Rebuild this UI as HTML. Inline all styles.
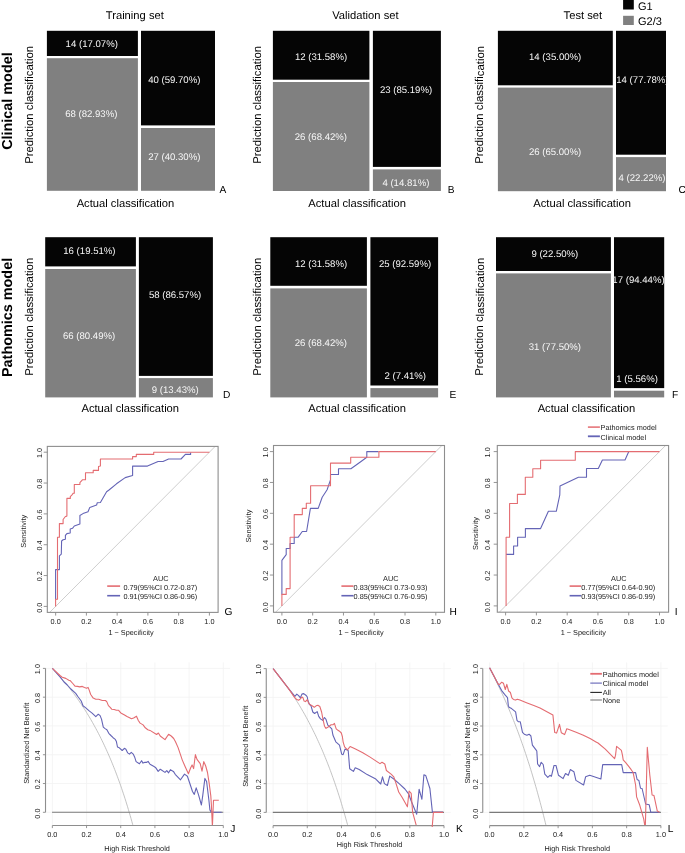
<!DOCTYPE html>
<html><head><meta charset="utf-8"><style>
html,body{margin:0;padding:0;background:#fff;}
body{width:685px;height:853px;overflow:hidden;}
svg{display:block;font-family:"Liberation Sans", sans-serif;will-change:transform;}
text{text-rendering:geometricPrecision;}
</style></head><body>
<svg width="685" height="853" viewBox="0 0 685 853">
<defs><clipPath id="c1"><rect x="47.30" y="446.40" width="170.80" height="166.00"/></clipPath><clipPath id="c2"><rect x="273.50" y="445.50" width="171.00" height="166.80"/></clipPath><clipPath id="c3"><rect x="497.30" y="445.50" width="171.30" height="166.70"/></clipPath><clipPath id="c4"><rect x="45.51" y="662.40" width="184.63" height="163.10"/></clipPath><clipPath id="c5"><rect x="266.26" y="662.60" width="184.57" height="162.98"/></clipPath><clipPath id="c6"><rect x="482.75" y="662.40" width="185.00" height="163.21"/></clipPath></defs>
<rect x="46.90" y="30.80" width="91.00" height="25.20" fill="#050505"/>
<rect x="46.90" y="58.20" width="91.00" height="132.60" fill="#808080"/>
<rect x="141.00" y="30.80" width="74.00" height="94.60" fill="#050505"/>
<rect x="141.00" y="128.00" width="74.00" height="62.80" fill="#808080"/>
<rect x="272.90" y="30.80" width="96.50" height="48.90" fill="#050505"/>
<rect x="272.90" y="82.00" width="96.50" height="109.00" fill="#808080"/>
<rect x="372.90" y="30.80" width="68.00" height="136.10" fill="#050505"/>
<rect x="372.90" y="169.40" width="68.00" height="21.60" fill="#808080"/>
<rect x="497.90" y="30.80" width="114.90" height="54.50" fill="#050505"/>
<rect x="497.90" y="87.60" width="114.90" height="103.60" fill="#808080"/>
<rect x="616.00" y="30.80" width="50.00" height="123.90" fill="#050505"/>
<rect x="616.00" y="157.10" width="50.00" height="34.10" fill="#808080"/>
<rect x="45.20" y="237.20" width="90.70" height="29.20" fill="#050505"/>
<rect x="45.20" y="269.00" width="90.70" height="128.40" fill="#808080"/>
<rect x="138.90" y="237.20" width="74.00" height="138.70" fill="#050505"/>
<rect x="138.90" y="378.10" width="74.00" height="19.30" fill="#808080"/>
<rect x="270.30" y="237.20" width="96.60" height="48.60" fill="#050505"/>
<rect x="270.30" y="288.40" width="96.60" height="109.00" fill="#808080"/>
<rect x="370.40" y="237.20" width="67.70" height="148.30" fill="#050505"/>
<rect x="370.40" y="388.10" width="67.70" height="9.30" fill="#808080"/>
<rect x="496.00" y="237.20" width="114.90" height="33.80" fill="#050505"/>
<rect x="496.00" y="273.40" width="114.90" height="124.00" fill="#808080"/>
<rect x="614.00" y="237.20" width="50.20" height="150.90" fill="#050505"/>
<rect x="614.00" y="390.70" width="50.20" height="6.70" fill="#808080"/>
<text x="91.75" y="46.70" font-size="9.6" text-anchor="middle" fill="#f6f6f6">14 (17.07%)</text>
<text x="91.30" y="116.70" font-size="9.6" text-anchor="middle" fill="#f6f6f6">68 (82.93%)</text>
<text x="174.30" y="82.60" font-size="9.6" text-anchor="middle" fill="#f6f6f6">40 (59.70%)</text>
<text x="174.30" y="159.90" font-size="9.6" text-anchor="middle" fill="#f6f6f6">27 (40.30%)</text>
<text x="321.05" y="59.90" font-size="9.6" text-anchor="middle" fill="#f6f6f6">12 (31.58%)</text>
<text x="320.90" y="139.50" font-size="9.6" text-anchor="middle" fill="#f6f6f6">26 (68.42%)</text>
<text x="406.05" y="92.90" font-size="9.6" text-anchor="middle" fill="#f6f6f6">23 (85.19%)</text>
<text x="405.90" y="185.80" font-size="9.6" text-anchor="middle" fill="#f6f6f6">4 (14.81%)</text>
<text x="555.15" y="59.90" font-size="9.6" text-anchor="middle" fill="#f6f6f6">14 (35.00%)</text>
<text x="555.05" y="155.00" font-size="9.6" text-anchor="middle" fill="#f6f6f6">26 (65.00%)</text>
<text x="642.40" y="82.90" font-size="9.6" text-anchor="middle" fill="#f6f6f6">14 (77.78%)</text>
<text x="642.00" y="180.50" font-size="9.6" text-anchor="middle" fill="#f6f6f6">4 (22.22%)</text>
<text x="89.40" y="254.30" font-size="9.6" text-anchor="middle" fill="#f6f6f6">16 (19.51%)</text>
<text x="89.10" y="338.90" font-size="9.6" text-anchor="middle" fill="#f6f6f6">66 (80.49%)</text>
<text x="175.05" y="298.10" font-size="9.6" text-anchor="middle" fill="#f6f6f6">58 (86.57%)</text>
<text x="175.30" y="392.90" font-size="9.6" text-anchor="middle" fill="#f6f6f6">9 (13.43%)</text>
<text x="321.05" y="266.90" font-size="9.6" text-anchor="middle" fill="#f6f6f6">12 (31.58%)</text>
<text x="320.85" y="345.60" font-size="9.6" text-anchor="middle" fill="#f6f6f6">26 (68.42%)</text>
<text x="405.05" y="266.60" font-size="9.6" text-anchor="middle" fill="#f6f6f6">25 (92.59%)</text>
<text x="405.25" y="378.60" font-size="9.6" text-anchor="middle" fill="#f6f6f6">2 (7.41%)</text>
<text x="554.85" y="256.60" font-size="9.6" text-anchor="middle" fill="#f6f6f6">9 (22.50%)</text>
<text x="554.90" y="349.90" font-size="9.6" text-anchor="middle" fill="#f6f6f6">31 (77.50%)</text>
<text x="638.50" y="282.60" font-size="9.6" text-anchor="middle" fill="#f6f6f6">17 (94.44%)</text>
<text x="637.10" y="381.60" font-size="9.6" text-anchor="middle" fill="#f6f6f6">1 (5.56%)</text>
<text x="219.50" y="192.70" font-size="10.2" text-anchor="start" fill="#000">A</text>
<text x="447.70" y="192.70" font-size="10.2" text-anchor="start" fill="#000">B</text>
<text x="678.40" y="192.70" font-size="10.2" text-anchor="start" fill="#000">C</text>
<text x="223.00" y="397.80" font-size="10.2" text-anchor="start" fill="#000">D</text>
<text x="449.50" y="397.80" font-size="10.2" text-anchor="start" fill="#000">E</text>
<text x="671.90" y="397.80" font-size="10.2" text-anchor="start" fill="#000">F</text>
<text x="134.80" y="18.90" font-size="11.2" text-anchor="middle" fill="#000">Training set</text>
<text x="365.40" y="18.90" font-size="11.2" text-anchor="middle" fill="#000">Validation set</text>
<text x="582.90" y="18.90" font-size="11.2" text-anchor="middle" fill="#000">Test set</text>
<text x="125.45" y="206.80" font-size="11.2" text-anchor="middle" fill="#000">Actual classification</text>
<text x="357.10" y="206.80" font-size="11.2" text-anchor="middle" fill="#000">Actual classification</text>
<text x="582.10" y="206.80" font-size="11.2" text-anchor="middle" fill="#000">Actual classification</text>
<text x="130.25" y="412.30" font-size="11.2" text-anchor="middle" fill="#000">Actual classification</text>
<text x="357.10" y="412.30" font-size="11.2" text-anchor="middle" fill="#000">Actual classification</text>
<text x="586.45" y="412.30" font-size="11.2" text-anchor="middle" fill="#000">Actual classification</text>
<text x="33.40" y="104.90" font-size="11.35" text-anchor="middle" fill="#000" transform="rotate(-89.98 33.40 104.90)">Prediction classification</text>
<text x="261.00" y="104.90" font-size="11.35" text-anchor="middle" fill="#000" transform="rotate(-89.98 261.00 104.90)">Prediction classification</text>
<text x="483.50" y="104.90" font-size="11.35" text-anchor="middle" fill="#000" transform="rotate(-89.98 483.50 104.90)">Prediction classification</text>
<text x="33.40" y="316.75" font-size="11.35" text-anchor="middle" fill="#000" transform="rotate(-89.98 33.40 316.75)">Prediction classification</text>
<text x="261.00" y="316.75" font-size="11.35" text-anchor="middle" fill="#000" transform="rotate(-89.98 261.00 316.75)">Prediction classification</text>
<text x="483.50" y="316.75" font-size="11.35" text-anchor="middle" fill="#000" transform="rotate(-89.98 483.50 316.75)">Prediction classification</text>
<text x="11.60" y="101.10" font-size="14.4" text-anchor="middle" fill="#000" font-weight="bold" transform="rotate(-89.98 11.60 101.10)">Clinical model</text>
<text x="11.60" y="317.45" font-size="14.4" text-anchor="middle" fill="#000" font-weight="bold" transform="rotate(-89.98 11.60 317.45)">Pathomics model</text>
<rect x="623.10" y="0.00" width="10.70" height="9.50" fill="#050505"/>
<rect x="623.10" y="15.80" width="10.70" height="9.20" fill="#808080"/>
<text x="638.00" y="9.50" font-size="11" text-anchor="start" fill="#000">G1</text>
<text x="638.00" y="25.00" font-size="11" text-anchor="start" fill="#000">G2/3</text>
<line x1="49.67" y1="612.40" x2="215.18" y2="446.40" stroke="#c8c8c8" stroke-width="0.9" clip-path="url(#c1)"/>
<polyline points="55.60,599.60 55.60,569.60 59.40,569.60 59.40,555.90 61.30,554.10 61.60,541.00 63.10,539.80 65.40,539.20 65.40,535.40 66.90,533.60 70.20,533.00 70.20,529.00 72.50,528.30 74.30,526.00 79.90,524.00 79.90,515.50 83.00,513.60 88.00,511.80 89.80,507.40 96.60,505.00 97.30,502.70 100.40,502.50 106.60,491.70 109.00,490.00 116.50,483.80 125.20,477.60 132.60,475.50 132.60,466.10 147.50,466.10 158.10,461.50 163.00,461.50 168.60,459.00 181.00,459.00 185.40,454.40 190.60,454.40 190.60,452.60" fill="none" stroke="#6464b6" stroke-width="1.1" stroke-linejoin="round" clip-path="url(#c1)"/>
<polyline points="55.60,606.40 55.60,599.30 57.50,599.30 57.50,537.30 59.40,537.30 59.40,523.60 63.10,523.60 63.10,519.50 65.40,516.50 66.90,516.10 66.90,498.40 70.30,498.40 70.30,496.60 72.00,494.80 73.30,493.20 74.30,493.20 74.30,484.50 79.90,484.50 79.90,482.60 82.40,479.80 85.50,479.80 85.50,472.70 93.20,472.70 93.20,470.40 98.50,470.40 98.50,466.50 100.40,465.90 100.40,459.00 132.60,459.00 132.60,456.60 136.30,456.60 136.30,454.40 153.70,454.40 153.70,452.20 209.40,452.20" fill="none" stroke="#e46c71" stroke-width="1.1" stroke-linejoin="round" clip-path="url(#c1)"/>
<rect x="47.30" y="446.40" width="170.80" height="166.00" fill="none" stroke="#8e8e8e" stroke-width="1.1"/>
<line x1="55.65" y1="612.40" x2="55.65" y2="615.60" stroke="#8a8a8a" stroke-width="0.9"/>
<text x="55.65" y="623.60" font-size="7.3" text-anchor="middle" fill="#222">0.0</text>
<line x1="43.70" y1="606.40" x2="47.30" y2="606.40" stroke="#8a8a8a" stroke-width="0.9"/>
<text x="42.00" y="607.70" font-size="7.3" text-anchor="middle" fill="#222" transform="rotate(-89.98 42.00 607.70)">0.0</text>
<line x1="86.40" y1="612.40" x2="86.40" y2="615.60" stroke="#8a8a8a" stroke-width="0.9"/>
<text x="86.40" y="623.60" font-size="7.3" text-anchor="middle" fill="#222">0.2</text>
<line x1="43.70" y1="575.56" x2="47.30" y2="575.56" stroke="#8a8a8a" stroke-width="0.9"/>
<text x="42.00" y="576.26" font-size="7.3" text-anchor="middle" fill="#222" transform="rotate(-89.98 42.00 576.26)">0.2</text>
<line x1="117.15" y1="612.40" x2="117.15" y2="615.60" stroke="#8a8a8a" stroke-width="0.9"/>
<text x="117.15" y="623.60" font-size="7.3" text-anchor="middle" fill="#222">0.4</text>
<line x1="43.70" y1="544.72" x2="47.30" y2="544.72" stroke="#8a8a8a" stroke-width="0.9"/>
<text x="42.00" y="545.42" font-size="7.3" text-anchor="middle" fill="#222" transform="rotate(-89.98 42.00 545.42)">0.4</text>
<line x1="147.90" y1="612.40" x2="147.90" y2="615.60" stroke="#8a8a8a" stroke-width="0.9"/>
<text x="147.90" y="623.60" font-size="7.3" text-anchor="middle" fill="#222">0.6</text>
<line x1="43.70" y1="513.88" x2="47.30" y2="513.88" stroke="#8a8a8a" stroke-width="0.9"/>
<text x="42.00" y="514.58" font-size="7.3" text-anchor="middle" fill="#222" transform="rotate(-89.98 42.00 514.58)">0.6</text>
<line x1="178.65" y1="612.40" x2="178.65" y2="615.60" stroke="#8a8a8a" stroke-width="0.9"/>
<text x="178.65" y="623.60" font-size="7.3" text-anchor="middle" fill="#222">0.8</text>
<line x1="43.70" y1="483.04" x2="47.30" y2="483.04" stroke="#8a8a8a" stroke-width="0.9"/>
<text x="42.00" y="483.74" font-size="7.3" text-anchor="middle" fill="#222" transform="rotate(-89.98 42.00 483.74)">0.8</text>
<line x1="209.40" y1="612.40" x2="209.40" y2="615.60" stroke="#8a8a8a" stroke-width="0.9"/>
<text x="209.40" y="623.60" font-size="7.3" text-anchor="middle" fill="#222">1.0</text>
<line x1="43.70" y1="452.20" x2="47.30" y2="452.20" stroke="#8a8a8a" stroke-width="0.9"/>
<text x="42.00" y="452.90" font-size="7.3" text-anchor="middle" fill="#222" transform="rotate(-89.98 42.00 452.90)">1.0</text>
<text x="131.10" y="634.60" font-size="7.3" text-anchor="middle" fill="#222">1 − Specificity</text>
<text x="25.90" y="531.20" font-size="7.3" text-anchor="middle" fill="#222" transform="rotate(-89.98 25.90 531.20)">Sensitivity</text>
<text x="160.80" y="580.90" font-size="7.3" text-anchor="middle" fill="#222">AUC</text>
<line x1="107.20" y1="586.10" x2="120.10" y2="586.10" stroke="#e46c71" stroke-width="1.6"/>
<text x="123.40" y="589.60" font-size="7.3" text-anchor="start" fill="#222">0.79(95%CI 0.72-0.87)</text>
<line x1="107.20" y1="595.70" x2="120.10" y2="595.70" stroke="#6464b6" stroke-width="1.6"/>
<text x="123.40" y="599.00" font-size="7.3" text-anchor="start" fill="#222">0.91(95%CI 0.86-0.96)</text>
<text x="224.50" y="614.60" font-size="10.2" text-anchor="start" fill="#000">G</text>
<line x1="275.52" y1="612.30" x2="441.88" y2="445.50" stroke="#c8c8c8" stroke-width="0.9" clip-path="url(#c2)"/>
<polyline points="281.90,594.70 281.90,560.30 286.20,554.70 286.20,548.50 290.10,548.50 290.10,543.50 294.20,543.50 294.20,537.30 298.00,537.30 302.30,531.50 306.60,531.50 310.40,508.40 318.20,508.40 322.20,497.30 327.10,489.80 330.50,479.90 330.50,474.50 338.50,474.50 338.50,468.70 350.90,468.70 360.00,462.20 366.80,457.30 366.80,451.60 378.60,451.60" fill="none" stroke="#6464b6" stroke-width="1.1" stroke-linejoin="round" clip-path="url(#c2)"/>
<polyline points="281.90,605.90 281.90,594.40 286.20,594.40 286.20,588.60 290.10,588.60 290.10,537.30 294.20,537.30 294.20,514.60 302.30,514.60 302.30,508.40 306.30,508.40 306.30,503.20 310.60,503.20 310.60,485.80 330.50,485.80 330.50,463.10 350.70,463.10 350.70,457.30 378.90,457.30 378.90,451.60 435.80,451.60" fill="none" stroke="#e46c71" stroke-width="1.1" stroke-linejoin="round" clip-path="url(#c2)"/>
<rect x="273.50" y="445.50" width="171.00" height="166.80" fill="none" stroke="#8e8e8e" stroke-width="1.1"/>
<line x1="281.90" y1="612.30" x2="281.90" y2="615.50" stroke="#8a8a8a" stroke-width="0.9"/>
<text x="281.90" y="623.60" font-size="7.3" text-anchor="middle" fill="#222">0.0</text>
<line x1="269.90" y1="605.90" x2="273.50" y2="605.90" stroke="#8a8a8a" stroke-width="0.9"/>
<text x="268.20" y="607.20" font-size="7.3" text-anchor="middle" fill="#222" transform="rotate(-89.98 268.20 607.20)">0.0</text>
<line x1="312.68" y1="612.30" x2="312.68" y2="615.50" stroke="#8a8a8a" stroke-width="0.9"/>
<text x="312.68" y="623.60" font-size="7.3" text-anchor="middle" fill="#222">0.2</text>
<line x1="269.90" y1="575.04" x2="273.50" y2="575.04" stroke="#8a8a8a" stroke-width="0.9"/>
<text x="268.20" y="575.74" font-size="7.3" text-anchor="middle" fill="#222" transform="rotate(-89.98 268.20 575.74)">0.2</text>
<line x1="343.46" y1="612.30" x2="343.46" y2="615.50" stroke="#8a8a8a" stroke-width="0.9"/>
<text x="343.46" y="623.60" font-size="7.3" text-anchor="middle" fill="#222">0.4</text>
<line x1="269.90" y1="544.18" x2="273.50" y2="544.18" stroke="#8a8a8a" stroke-width="0.9"/>
<text x="268.20" y="544.88" font-size="7.3" text-anchor="middle" fill="#222" transform="rotate(-89.98 268.20 544.88)">0.4</text>
<line x1="374.24" y1="612.30" x2="374.24" y2="615.50" stroke="#8a8a8a" stroke-width="0.9"/>
<text x="374.24" y="623.60" font-size="7.3" text-anchor="middle" fill="#222">0.6</text>
<line x1="269.90" y1="513.32" x2="273.50" y2="513.32" stroke="#8a8a8a" stroke-width="0.9"/>
<text x="268.20" y="514.02" font-size="7.3" text-anchor="middle" fill="#222" transform="rotate(-89.98 268.20 514.02)">0.6</text>
<line x1="405.02" y1="612.30" x2="405.02" y2="615.50" stroke="#8a8a8a" stroke-width="0.9"/>
<text x="405.02" y="623.60" font-size="7.3" text-anchor="middle" fill="#222">0.8</text>
<line x1="269.90" y1="482.46" x2="273.50" y2="482.46" stroke="#8a8a8a" stroke-width="0.9"/>
<text x="268.20" y="483.16" font-size="7.3" text-anchor="middle" fill="#222" transform="rotate(-89.98 268.20 483.16)">0.8</text>
<line x1="435.80" y1="612.30" x2="435.80" y2="615.50" stroke="#8a8a8a" stroke-width="0.9"/>
<text x="435.80" y="623.60" font-size="7.3" text-anchor="middle" fill="#222">1.0</text>
<line x1="269.90" y1="451.60" x2="273.50" y2="451.60" stroke="#8a8a8a" stroke-width="0.9"/>
<text x="268.20" y="452.30" font-size="7.3" text-anchor="middle" fill="#222" transform="rotate(-89.98 268.20 452.30)">1.0</text>
<text x="361.10" y="634.60" font-size="7.3" text-anchor="middle" fill="#222">1 − Specificity</text>
<text x="250.80" y="526.10" font-size="7.3" text-anchor="middle" fill="#222" transform="rotate(-89.98 250.80 526.10)">Sensitivity</text>
<text x="390.80" y="580.90" font-size="7.3" text-anchor="middle" fill="#222">AUC</text>
<line x1="341.40" y1="586.10" x2="353.50" y2="586.10" stroke="#e46c71" stroke-width="1.6"/>
<text x="353.60" y="589.60" font-size="7.3" text-anchor="start" fill="#222">0.83(95%CI 0.73-0.93)</text>
<line x1="341.40" y1="595.70" x2="353.50" y2="595.70" stroke="#6464b6" stroke-width="1.6"/>
<text x="353.60" y="599.00" font-size="7.3" text-anchor="start" fill="#222">0.85(95%CI 0.76-0.95)</text>
<text x="449.50" y="614.60" font-size="10.2" text-anchor="start" fill="#000">H</text>
<line x1="499.32" y1="612.20" x2="665.58" y2="445.50" stroke="#c8c8c8" stroke-width="0.9" clip-path="url(#c3)"/>
<polyline points="506.10,554.40 513.60,554.40 513.60,546.00 517.60,546.00 517.60,537.30 525.40,537.30 525.40,528.60 540.60,528.60 548.40,511.30 556.30,511.30 559.80,494.80 560.00,486.10 578.40,477.20 586.50,477.20 586.50,468.50 598.30,468.50 602.40,460.00 625.00,460.00 628.70,451.80" fill="none" stroke="#6464b6" stroke-width="1.1" stroke-linejoin="round" clip-path="url(#c3)"/>
<polyline points="506.10,605.90 506.10,537.30 509.60,537.30 509.60,503.50 517.40,503.50 517.40,494.40 525.30,494.40 525.30,477.20 532.80,477.20 532.80,468.70 540.60,468.70 540.60,460.30 575.30,460.30 575.30,451.60 659.50,451.60" fill="none" stroke="#e46c71" stroke-width="1.1" stroke-linejoin="round" clip-path="url(#c3)"/>
<rect x="497.30" y="445.50" width="171.30" height="166.70" fill="none" stroke="#8e8e8e" stroke-width="1.1"/>
<line x1="505.60" y1="612.20" x2="505.60" y2="615.40" stroke="#8a8a8a" stroke-width="0.9"/>
<text x="505.60" y="623.60" font-size="7.3" text-anchor="middle" fill="#222">0.0</text>
<line x1="493.70" y1="605.90" x2="497.30" y2="605.90" stroke="#8a8a8a" stroke-width="0.9"/>
<text x="490.10" y="607.20" font-size="7.3" text-anchor="middle" fill="#222" transform="rotate(-89.98 490.10 607.20)">0.0</text>
<line x1="536.38" y1="612.20" x2="536.38" y2="615.40" stroke="#8a8a8a" stroke-width="0.9"/>
<text x="536.38" y="623.60" font-size="7.3" text-anchor="middle" fill="#222">0.2</text>
<line x1="493.70" y1="575.04" x2="497.30" y2="575.04" stroke="#8a8a8a" stroke-width="0.9"/>
<text x="490.10" y="575.74" font-size="7.3" text-anchor="middle" fill="#222" transform="rotate(-89.98 490.10 575.74)">0.2</text>
<line x1="567.16" y1="612.20" x2="567.16" y2="615.40" stroke="#8a8a8a" stroke-width="0.9"/>
<text x="567.16" y="623.60" font-size="7.3" text-anchor="middle" fill="#222">0.4</text>
<line x1="493.70" y1="544.18" x2="497.30" y2="544.18" stroke="#8a8a8a" stroke-width="0.9"/>
<text x="490.10" y="544.88" font-size="7.3" text-anchor="middle" fill="#222" transform="rotate(-89.98 490.10 544.88)">0.4</text>
<line x1="597.94" y1="612.20" x2="597.94" y2="615.40" stroke="#8a8a8a" stroke-width="0.9"/>
<text x="597.94" y="623.60" font-size="7.3" text-anchor="middle" fill="#222">0.6</text>
<line x1="493.70" y1="513.32" x2="497.30" y2="513.32" stroke="#8a8a8a" stroke-width="0.9"/>
<text x="490.10" y="514.02" font-size="7.3" text-anchor="middle" fill="#222" transform="rotate(-89.98 490.10 514.02)">0.6</text>
<line x1="628.72" y1="612.20" x2="628.72" y2="615.40" stroke="#8a8a8a" stroke-width="0.9"/>
<text x="628.72" y="623.60" font-size="7.3" text-anchor="middle" fill="#222">0.8</text>
<line x1="493.70" y1="482.46" x2="497.30" y2="482.46" stroke="#8a8a8a" stroke-width="0.9"/>
<text x="490.10" y="483.16" font-size="7.3" text-anchor="middle" fill="#222" transform="rotate(-89.98 490.10 483.16)">0.8</text>
<line x1="659.50" y1="612.20" x2="659.50" y2="615.40" stroke="#8a8a8a" stroke-width="0.9"/>
<text x="659.50" y="623.60" font-size="7.3" text-anchor="middle" fill="#222">1.0</text>
<line x1="493.70" y1="451.60" x2="497.30" y2="451.60" stroke="#8a8a8a" stroke-width="0.9"/>
<text x="490.10" y="452.30" font-size="7.3" text-anchor="middle" fill="#222" transform="rotate(-89.98 490.10 452.30)">1.0</text>
<text x="583.35" y="634.60" font-size="7.3" text-anchor="middle" fill="#222">1 − Specificity</text>
<text x="477.70" y="533.60" font-size="7.3" text-anchor="middle" fill="#222" transform="rotate(-89.98 477.70 533.60)">Sensitivity</text>
<text x="618.80" y="580.90" font-size="7.3" text-anchor="middle" fill="#222">AUC</text>
<line x1="569.60" y1="586.10" x2="581.20" y2="586.10" stroke="#e46c71" stroke-width="1.6"/>
<text x="581.30" y="589.60" font-size="7.3" text-anchor="start" fill="#222">0.77(95%CI 0.64-0.90)</text>
<line x1="569.60" y1="595.70" x2="581.20" y2="595.70" stroke="#6464b6" stroke-width="1.6"/>
<text x="581.30" y="599.00" font-size="7.3" text-anchor="start" fill="#222">0.93(95%CI 0.86-0.99)</text>
<text x="674.80" y="614.60" font-size="10.2" text-anchor="start" fill="#000">I</text>
<line x1="587.90" y1="427.10" x2="599.90" y2="427.10" stroke="#e46c71" stroke-width="1.5"/>
<line x1="587.90" y1="436.30" x2="599.90" y2="436.30" stroke="#6464b6" stroke-width="1.8"/>
<text x="600.60" y="430.40" font-size="7.3" text-anchor="start" fill="#222">Pathomics model</text>
<text x="600.60" y="439.50" font-size="7.3" text-anchor="start" fill="#222">Clinical model</text>
<line x1="52.35" y1="662.40" x2="52.35" y2="825.50" stroke="#f3f3f3" stroke-width="0.8"/>
<line x1="45.51" y1="812.30" x2="230.14" y2="812.30" stroke="#f3f3f3" stroke-width="0.8"/>
<line x1="86.54" y1="662.40" x2="86.54" y2="825.50" stroke="#f3f3f3" stroke-width="0.8"/>
<line x1="45.51" y1="783.52" x2="230.14" y2="783.52" stroke="#f3f3f3" stroke-width="0.8"/>
<line x1="120.73" y1="662.40" x2="120.73" y2="825.50" stroke="#f3f3f3" stroke-width="0.8"/>
<line x1="45.51" y1="754.74" x2="230.14" y2="754.74" stroke="#f3f3f3" stroke-width="0.8"/>
<line x1="154.92" y1="662.40" x2="154.92" y2="825.50" stroke="#f3f3f3" stroke-width="0.8"/>
<line x1="45.51" y1="725.96" x2="230.14" y2="725.96" stroke="#f3f3f3" stroke-width="0.8"/>
<line x1="189.11" y1="662.40" x2="189.11" y2="825.50" stroke="#f3f3f3" stroke-width="0.8"/>
<line x1="45.51" y1="697.18" x2="230.14" y2="697.18" stroke="#f3f3f3" stroke-width="0.8"/>
<line x1="223.30" y1="662.40" x2="223.30" y2="825.50" stroke="#f3f3f3" stroke-width="0.8"/>
<line x1="45.51" y1="668.40" x2="230.14" y2="668.40" stroke="#f3f3f3" stroke-width="0.8"/>
<polyline points="52.35,668.40 53.20,669.29 54.06,670.18 54.91,671.08 55.77,671.99 56.62,672.92 57.48,673.85 58.33,674.79 59.19,675.74 60.04,676.70 60.90,677.67 61.75,678.65 62.61,679.64 63.46,680.64 64.32,681.66 65.17,682.68 66.03,683.71 66.88,684.76 67.74,685.82 68.59,686.89 69.45,687.97 70.30,689.06 71.15,690.17 72.01,691.29 72.86,692.42 73.72,693.56 74.57,694.72 75.43,695.89 76.28,697.07 77.14,698.27 77.99,699.48 78.85,700.71 79.70,701.95 80.56,703.20 81.41,704.47 82.27,705.76 83.12,707.06 83.98,708.38 84.83,709.71 85.69,711.06 86.54,712.43 87.39,713.81 88.25,715.22 89.10,716.64 89.96,718.07 90.81,719.53 91.67,721.01 92.52,722.50 93.38,724.02 94.23,725.55 95.09,727.11 95.94,728.68 96.80,730.28 97.65,731.90 98.51,733.54 99.36,735.20 100.22,736.89 101.07,738.60 101.93,740.33 102.78,742.09 103.64,743.88 104.49,745.69 105.34,747.52 106.20,749.39 107.05,751.28 107.91,753.20 108.76,755.14 109.62,757.12 110.47,759.13 111.33,761.16 112.18,763.23 113.04,765.33 113.89,767.47 114.75,769.63 115.60,771.83 116.46,774.07 117.31,776.34 118.17,778.65 119.02,781.00 119.88,783.39 120.73,785.81 121.58,788.28 122.44,790.79 123.29,793.34 124.15,795.93 125.00,798.57 125.86,801.26 126.71,803.99 127.57,806.78 128.42,809.61 129.28,812.50 130.13,815.43 130.99,818.43 131.84,821.47 132.70,824.58 133.55,827.74 134.41,830.97 135.26,834.26 136.12,837.61 136.97,841.03 137.83,844.52" fill="none" stroke="#b4b4b4" stroke-width="0.8" stroke-linejoin="round" clip-path="url(#c4)"/>
<line x1="52.05" y1="812.30" x2="223.30" y2="812.30" stroke="#7a7a7a" stroke-width="1.1"/>
<polyline points="52.40,668.40 60.00,676.90 64.00,682.00 67.30,685.00 70.90,689.00 75.70,693.40 78.20,697.00 81.20,701.00 83.00,705.80 85.50,707.60 89.20,710.90 92.10,713.10 95.80,716.70 98.30,714.20 100.10,715.60 101.50,719.10 103.30,727.10 105.10,728.60 106.90,729.70 108.80,733.30 110.90,735.50 113.10,737.70 115.30,739.40 116.40,741.60 117.50,747.00 119.30,747.80 122.20,750.50 124.40,748.30 125.90,749.20 127.70,752.90 129.50,754.10 131.30,752.40 133.20,754.10 134.60,756.90 136.10,761.60 139.40,763.80 141.60,760.70 143.00,763.10 144.50,762.40 146.30,762.40 148.10,761.40 150.00,764.30 153.60,766.30 155.50,767.40 158.20,771.40 160.30,769.20 165.00,772.40 166.80,770.60 168.60,772.80 170.40,769.70 173.40,771.40 175.20,774.30 180.50,779.80 184.50,774.10 187.40,776.20 189.60,782.70 192.50,791.50 194.30,794.40 196.20,787.80 198.40,794.40 201.40,805.00 202.70,795.90 204.90,778.40 206.60,781.50 208.90,800.30 209.90,809.90 211.30,812.30 221.70,812.30" fill="none" stroke="#6464b6" stroke-width="1.1" stroke-linejoin="round" clip-path="url(#c4)"/>
<polyline points="52.40,668.40 60.00,675.50 62.20,677.30 65.80,678.40 68.80,680.20 70.20,680.60 72.80,683.50 75.00,686.20 77.50,686.40 79.70,686.90 82.30,686.40 84.50,687.40 86.60,688.20 88.10,687.40 89.20,690.10 90.70,694.50 93.20,698.10 95.80,699.30 98.70,699.20 102.30,700.50 105.50,700.50 106.90,701.90 108.40,705.60 110.20,707.40 111.70,709.20 114.20,709.50 116.40,710.30 118.60,710.30 120.80,712.90 124.10,714.70 127.00,716.50 129.60,717.80 131.40,718.70 133.60,718.00 136.50,716.20 138.30,720.50 140.10,723.10 143.10,724.90 145.30,727.80 147.80,729.70 150.00,730.40 156.60,734.50 158.40,733.00 160.20,736.00 165.00,739.60 168.60,734.30 171.20,736.00 173.70,738.50 175.50,741.80 178.10,747.60 180.30,754.20 182.30,760.10 185.20,766.70 188.40,773.80 190.70,767.80 192.10,764.90 193.60,768.60 195.40,754.60 197.00,759.40 200.20,763.60 202.00,771.10 203.80,761.60 205.70,766.00 207.50,772.50 209.30,784.20 210.80,795.90 211.40,805.00 212.40,826.50 213.50,800.30 218.80,800.30" fill="none" stroke="#e46c71" stroke-width="1.1" stroke-linejoin="round" clip-path="url(#c4)"/>
<line x1="45.51" y1="812.30" x2="45.51" y2="668.40" stroke="#8e8e8e" stroke-width="1.1"/>
<line x1="52.35" y1="825.50" x2="223.30" y2="825.50" stroke="#8e8e8e" stroke-width="1.1"/>
<line x1="52.35" y1="825.50" x2="52.35" y2="828.10" stroke="#8a8a8a" stroke-width="0.9"/>
<text x="52.35" y="837.00" font-size="7.3" text-anchor="middle" fill="#222">0.0</text>
<line x1="42.91" y1="812.30" x2="45.51" y2="812.30" stroke="#8a8a8a" stroke-width="0.9"/>
<text x="40.01" y="813.60" font-size="7.3" text-anchor="middle" fill="#222" transform="rotate(-89.98 40.01 813.60)">0.0</text>
<line x1="86.54" y1="825.50" x2="86.54" y2="828.10" stroke="#8a8a8a" stroke-width="0.9"/>
<text x="86.54" y="837.00" font-size="7.3" text-anchor="middle" fill="#222">0.2</text>
<line x1="42.91" y1="783.52" x2="45.51" y2="783.52" stroke="#8a8a8a" stroke-width="0.9"/>
<text x="40.01" y="784.22" font-size="7.3" text-anchor="middle" fill="#222" transform="rotate(-89.98 40.01 784.22)">0.2</text>
<line x1="120.73" y1="825.50" x2="120.73" y2="828.10" stroke="#8a8a8a" stroke-width="0.9"/>
<text x="120.73" y="837.00" font-size="7.3" text-anchor="middle" fill="#222">0.4</text>
<line x1="42.91" y1="754.74" x2="45.51" y2="754.74" stroke="#8a8a8a" stroke-width="0.9"/>
<text x="40.01" y="755.44" font-size="7.3" text-anchor="middle" fill="#222" transform="rotate(-89.98 40.01 755.44)">0.4</text>
<line x1="154.92" y1="825.50" x2="154.92" y2="828.10" stroke="#8a8a8a" stroke-width="0.9"/>
<text x="154.92" y="837.00" font-size="7.3" text-anchor="middle" fill="#222">0.6</text>
<line x1="42.91" y1="725.96" x2="45.51" y2="725.96" stroke="#8a8a8a" stroke-width="0.9"/>
<text x="40.01" y="726.66" font-size="7.3" text-anchor="middle" fill="#222" transform="rotate(-89.98 40.01 726.66)">0.6</text>
<line x1="189.11" y1="825.50" x2="189.11" y2="828.10" stroke="#8a8a8a" stroke-width="0.9"/>
<text x="189.11" y="837.00" font-size="7.3" text-anchor="middle" fill="#222">0.8</text>
<line x1="42.91" y1="697.18" x2="45.51" y2="697.18" stroke="#8a8a8a" stroke-width="0.9"/>
<text x="40.01" y="697.88" font-size="7.3" text-anchor="middle" fill="#222" transform="rotate(-89.98 40.01 697.88)">0.8</text>
<line x1="223.30" y1="825.50" x2="223.30" y2="828.10" stroke="#8a8a8a" stroke-width="0.9"/>
<text x="223.30" y="837.00" font-size="7.3" text-anchor="middle" fill="#222">1.0</text>
<line x1="42.91" y1="668.40" x2="45.51" y2="668.40" stroke="#8a8a8a" stroke-width="0.9"/>
<text x="40.01" y="669.10" font-size="7.3" text-anchor="middle" fill="#222" transform="rotate(-89.98 40.01 669.10)">1.0</text>
<text x="28.60" y="743.20" font-size="7.3" text-anchor="middle" fill="#222" transform="rotate(-89.98 28.60 743.20)">Standardized Net Benefit</text>
<text x="137.05" y="851.40" font-size="7.3" text-anchor="middle" fill="#222">High Risk Threshold</text>
<text x="230.30" y="831.90" font-size="10.2" text-anchor="start" fill="#000">J</text>
<line x1="273.10" y1="662.60" x2="273.10" y2="825.59" stroke="#f3f3f3" stroke-width="0.8"/>
<line x1="266.26" y1="812.40" x2="450.84" y2="812.40" stroke="#f3f3f3" stroke-width="0.8"/>
<line x1="307.28" y1="662.60" x2="307.28" y2="825.59" stroke="#f3f3f3" stroke-width="0.8"/>
<line x1="266.26" y1="783.64" x2="450.84" y2="783.64" stroke="#f3f3f3" stroke-width="0.8"/>
<line x1="341.46" y1="662.60" x2="341.46" y2="825.59" stroke="#f3f3f3" stroke-width="0.8"/>
<line x1="266.26" y1="754.88" x2="450.84" y2="754.88" stroke="#f3f3f3" stroke-width="0.8"/>
<line x1="375.64" y1="662.60" x2="375.64" y2="825.59" stroke="#f3f3f3" stroke-width="0.8"/>
<line x1="266.26" y1="726.12" x2="450.84" y2="726.12" stroke="#f3f3f3" stroke-width="0.8"/>
<line x1="409.82" y1="662.60" x2="409.82" y2="825.59" stroke="#f3f3f3" stroke-width="0.8"/>
<line x1="266.26" y1="697.36" x2="450.84" y2="697.36" stroke="#f3f3f3" stroke-width="0.8"/>
<line x1="444.00" y1="662.60" x2="444.00" y2="825.59" stroke="#f3f3f3" stroke-width="0.8"/>
<line x1="266.26" y1="668.60" x2="450.84" y2="668.60" stroke="#f3f3f3" stroke-width="0.8"/>
<polyline points="273.10,668.60 273.95,669.62 274.81,670.64 275.66,671.68 276.52,672.73 277.37,673.79 278.23,674.86 279.08,675.94 279.94,677.03 280.79,678.14 281.65,679.25 282.50,680.38 283.35,681.52 284.21,682.67 285.06,683.83 285.92,685.01 286.77,686.20 287.63,687.40 288.48,688.62 289.34,689.84 290.19,691.09 291.04,692.34 291.90,693.61 292.75,694.90 293.61,696.20 294.46,697.51 295.32,698.84 296.17,700.19 297.03,701.55 297.88,702.92 298.74,704.32 299.59,705.72 300.44,707.15 301.30,708.59 302.15,710.05 303.01,711.53 303.86,713.03 304.72,714.54 305.57,716.07 306.43,717.62 307.28,719.20 308.13,720.79 308.99,722.40 309.84,724.03 310.70,725.68 311.55,727.36 312.41,729.05 313.26,730.77 314.12,732.51 314.97,734.27 315.83,736.06 316.68,737.87 317.53,739.71 318.39,741.57 319.24,743.45 320.10,745.37 320.95,747.31 321.81,749.27 322.66,751.26 323.52,753.29 324.37,755.34 325.22,757.42 326.08,759.53 326.93,761.67 327.79,763.84 328.64,766.04 329.50,768.28 330.35,770.55 331.21,772.86 332.06,775.20 332.92,777.58 333.77,779.99 334.62,782.44 335.48,784.93 336.33,787.46 337.19,790.03 338.04,792.64 338.90,795.30 339.75,797.99 340.61,800.74 341.46,803.52 342.31,806.36 343.17,809.24 344.02,812.17 344.88,815.15 345.73,818.19 346.59,821.28 347.44,824.42 348.30,827.62 349.15,830.87 350.01,834.19 350.86,837.56 351.71,841.00 352.57,844.50" fill="none" stroke="#b4b4b4" stroke-width="0.8" stroke-linejoin="round" clip-path="url(#c5)"/>
<line x1="272.80" y1="812.40" x2="444.00" y2="812.40" stroke="#7a7a7a" stroke-width="1.1"/>
<polyline points="273.10,668.60 288.00,687.90 294.90,696.30 296.80,694.10 298.60,695.60 300.40,697.80 301.90,694.10 303.70,693.60 305.90,695.20 307.30,697.00 307.70,699.60 309.20,704.00 311.00,705.80 312.80,712.00 314.60,713.50 317.20,711.60 318.70,716.40 320.50,718.90 322.70,720.40 324.50,717.50 326.00,719.30 327.80,725.10 330.30,727.30 331.80,728.80 332.90,735.00 335.80,741.80 339.50,745.10 341.70,754.20 343.10,754.60 345.00,749.10 348.20,750.50 349.70,768.80 353.40,771.40 355.20,767.70 359.20,769.50 367.20,774.60 375.80,779.10 380.70,784.00 382.50,776.80 384.40,783.60 387.40,785.50 389.70,776.10 393.80,779.00 399.40,783.80 404.90,789.00 408.80,794.20 411.20,801.00 416.70,814.20 419.10,789.20 421.90,799.30 423.90,774.70 425.70,775.40 429.90,788.50 432.40,812.10 443.10,812.10" fill="none" stroke="#6464b6" stroke-width="1.1" stroke-linejoin="round" clip-path="url(#c5)"/>
<polyline points="273.10,668.60 288.00,687.90 294.60,697.40 296.80,699.60 298.60,700.30 300.40,698.90 301.90,697.00 303.00,697.80 304.10,701.10 305.50,701.60 307.30,699.60 308.40,702.50 309.50,704.30 312.10,705.80 314.30,707.30 316.10,705.80 317.90,705.30 319.80,706.50 321.60,712.00 323.00,719.30 324.50,726.20 326.00,728.40 328.10,727.00 331.10,724.80 332.90,724.80 334.40,723.30 336.20,728.80 338.00,730.30 339.50,731.20 341.30,733.00 342.40,736.70 343.10,741.80 344.60,746.90 347.50,749.80 350.10,746.50 355.50,749.10 362.80,752.70 370.10,757.10 380.00,763.60 382.00,762.20 384.80,764.00 386.40,770.50 391.10,774.10 393.80,776.80 395.90,783.10 398.70,792.00 402.20,797.50 407.40,806.80 409.10,791.00 411.20,793.40 412.60,812.10 416.70,827.00" fill="none" stroke="#e46c71" stroke-width="1.1" stroke-linejoin="round" clip-path="url(#c5)"/>
<line x1="266.26" y1="812.40" x2="266.26" y2="668.60" stroke="#8e8e8e" stroke-width="1.1"/>
<line x1="273.10" y1="825.59" x2="444.00" y2="825.59" stroke="#8e8e8e" stroke-width="1.1"/>
<line x1="273.10" y1="825.59" x2="273.10" y2="828.19" stroke="#8a8a8a" stroke-width="0.9"/>
<text x="273.10" y="837.00" font-size="7.3" text-anchor="middle" fill="#222">0.0</text>
<line x1="263.66" y1="812.40" x2="266.26" y2="812.40" stroke="#8a8a8a" stroke-width="0.9"/>
<text x="260.76" y="813.70" font-size="7.3" text-anchor="middle" fill="#222" transform="rotate(-89.98 260.76 813.70)">0.0</text>
<line x1="307.28" y1="825.59" x2="307.28" y2="828.19" stroke="#8a8a8a" stroke-width="0.9"/>
<text x="307.28" y="837.00" font-size="7.3" text-anchor="middle" fill="#222">0.2</text>
<line x1="263.66" y1="783.64" x2="266.26" y2="783.64" stroke="#8a8a8a" stroke-width="0.9"/>
<text x="260.76" y="784.34" font-size="7.3" text-anchor="middle" fill="#222" transform="rotate(-89.98 260.76 784.34)">0.2</text>
<line x1="341.46" y1="825.59" x2="341.46" y2="828.19" stroke="#8a8a8a" stroke-width="0.9"/>
<text x="341.46" y="837.00" font-size="7.3" text-anchor="middle" fill="#222">0.4</text>
<line x1="263.66" y1="754.88" x2="266.26" y2="754.88" stroke="#8a8a8a" stroke-width="0.9"/>
<text x="260.76" y="755.58" font-size="7.3" text-anchor="middle" fill="#222" transform="rotate(-89.98 260.76 755.58)">0.4</text>
<line x1="375.64" y1="825.59" x2="375.64" y2="828.19" stroke="#8a8a8a" stroke-width="0.9"/>
<text x="375.64" y="837.00" font-size="7.3" text-anchor="middle" fill="#222">0.6</text>
<line x1="263.66" y1="726.12" x2="266.26" y2="726.12" stroke="#8a8a8a" stroke-width="0.9"/>
<text x="260.76" y="726.82" font-size="7.3" text-anchor="middle" fill="#222" transform="rotate(-89.98 260.76 726.82)">0.6</text>
<line x1="409.82" y1="825.59" x2="409.82" y2="828.19" stroke="#8a8a8a" stroke-width="0.9"/>
<text x="409.82" y="837.00" font-size="7.3" text-anchor="middle" fill="#222">0.8</text>
<line x1="263.66" y1="697.36" x2="266.26" y2="697.36" stroke="#8a8a8a" stroke-width="0.9"/>
<text x="260.76" y="698.06" font-size="7.3" text-anchor="middle" fill="#222" transform="rotate(-89.98 260.76 698.06)">0.8</text>
<line x1="444.00" y1="825.59" x2="444.00" y2="828.19" stroke="#8a8a8a" stroke-width="0.9"/>
<text x="444.00" y="837.00" font-size="7.3" text-anchor="middle" fill="#222">1.0</text>
<line x1="263.66" y1="668.60" x2="266.26" y2="668.60" stroke="#8a8a8a" stroke-width="0.9"/>
<text x="260.76" y="669.30" font-size="7.3" text-anchor="middle" fill="#222" transform="rotate(-89.98 260.76 669.30)">1.0</text>
<text x="247.60" y="746.20" font-size="7.3" text-anchor="middle" fill="#222" transform="rotate(-89.98 247.60 746.20)">Standardized Net Benefit</text>
<text x="369.45" y="846.80" font-size="7.3" text-anchor="middle" fill="#222">High Risk Threshold</text>
<text x="456.10" y="831.90" font-size="10.2" text-anchor="start" fill="#000">K</text>
<polyline points="432.20,827.00 433.40,812.40 443.10,812.40" fill="none" stroke="#e46c71" stroke-width="1.1" stroke-linejoin="round"/>
<line x1="489.60" y1="662.40" x2="489.60" y2="825.60" stroke="#f3f3f3" stroke-width="0.8"/>
<line x1="482.75" y1="812.40" x2="667.75" y2="812.40" stroke="#f3f3f3" stroke-width="0.8"/>
<line x1="523.86" y1="662.40" x2="523.86" y2="825.60" stroke="#f3f3f3" stroke-width="0.8"/>
<line x1="482.75" y1="783.60" x2="667.75" y2="783.60" stroke="#f3f3f3" stroke-width="0.8"/>
<line x1="558.12" y1="662.40" x2="558.12" y2="825.60" stroke="#f3f3f3" stroke-width="0.8"/>
<line x1="482.75" y1="754.80" x2="667.75" y2="754.80" stroke="#f3f3f3" stroke-width="0.8"/>
<line x1="592.38" y1="662.40" x2="592.38" y2="825.60" stroke="#f3f3f3" stroke-width="0.8"/>
<line x1="482.75" y1="726.00" x2="667.75" y2="726.00" stroke="#f3f3f3" stroke-width="0.8"/>
<line x1="626.64" y1="662.40" x2="626.64" y2="825.60" stroke="#f3f3f3" stroke-width="0.8"/>
<line x1="482.75" y1="697.20" x2="667.75" y2="697.20" stroke="#f3f3f3" stroke-width="0.8"/>
<line x1="660.90" y1="662.40" x2="660.90" y2="825.60" stroke="#f3f3f3" stroke-width="0.8"/>
<line x1="482.75" y1="668.40" x2="667.75" y2="668.40" stroke="#f3f3f3" stroke-width="0.8"/>
<polyline points="489.60,668.40 490.46,670.01 491.31,671.63 492.17,673.27 493.03,674.93 493.88,676.61 494.74,678.30 495.60,680.01 496.45,681.73 497.31,683.48 498.17,685.24 499.02,687.02 499.88,688.83 500.73,690.65 501.59,692.49 502.45,694.35 503.30,696.23 504.16,698.13 505.02,700.05 505.87,701.99 506.73,703.96 507.59,705.94 508.44,707.95 509.30,709.98 510.16,712.04 511.01,714.11 511.87,716.22 512.73,718.34 513.58,720.49 514.44,722.67 515.30,724.87 516.15,727.10 517.01,729.35 517.86,731.63 518.72,733.94 519.58,736.28 520.43,738.64 521.29,741.04 522.15,743.46 523.00,745.92 523.86,748.40 524.72,750.92 525.57,753.46 526.43,756.04 527.29,758.66 528.14,761.30 529.00,763.98 529.86,766.70 530.71,769.45 531.57,772.24 532.43,775.07 533.28,777.93 534.14,780.83 534.99,783.77 535.85,786.76 536.71,789.78 537.56,792.84 538.42,795.95 539.28,799.10 540.13,802.30 540.99,805.54 541.85,808.83 542.70,812.17 543.56,815.55 544.42,818.99 545.27,822.47 546.13,826.01 546.99,829.60 547.84,833.25 548.70,836.95 549.56,840.71 550.41,844.52" fill="none" stroke="#b4b4b4" stroke-width="0.8" stroke-linejoin="round" clip-path="url(#c6)"/>
<line x1="489.30" y1="812.40" x2="660.90" y2="812.40" stroke="#7a7a7a" stroke-width="1.1"/>
<polyline points="489.60,667.80 498.80,685.20 501.70,690.60 504.60,694.30 507.50,697.60 508.30,705.40 509.00,707.20 511.60,708.60 515.60,711.90 517.00,720.30 518.50,721.80 520.30,721.80 522.50,732.40 524.30,734.20 526.90,735.30 529.10,734.20 530.90,736.00 532.40,745.10 536.00,749.90 536.80,751.00 537.60,764.00 539.60,766.60 541.20,762.30 543.20,764.50 544.80,774.20 547.80,777.30 549.90,775.30 551.40,776.30 554.00,765.50 556.00,765.50 558.50,775.30 563.10,778.60 565.50,773.50 568.30,775.30 570.30,769.60 573.90,771.70 575.90,780.40 583.60,785.00 585.60,776.80 589.70,775.30 600.90,779.00 602.70,764.60 621.70,764.60 623.20,772.60 635.60,772.60 637.10,779.50 638.90,780.50 640.50,788.20 642.10,788.50 645.60,804.00 649.20,804.70 650.80,812.30 659.50,812.30" fill="none" stroke="#6464b6" stroke-width="1.1" stroke-linejoin="round" clip-path="url(#c6)"/>
<polyline points="489.60,667.80 498.40,684.40 499.90,684.10 501.70,682.20 503.50,683.30 505.30,689.50 506.80,684.40 508.60,691.00 510.40,692.50 511.90,697.90 513.40,699.40 515.50,700.10 517.40,699.20 519.90,700.10 526.50,702.70 533.80,705.60 540.00,708.10 552.90,714.90 554.70,732.40 556.60,733.10 559.50,724.30 561.30,732.70 564.60,734.60 566.80,728.70 569.00,729.50 575.50,732.00 582.80,734.90 590.10,738.60 596.00,741.90 598.00,743.00 605.30,749.20 609.70,753.60 614.60,758.70 615.50,755.40 616.60,746.30 621.40,750.30 622.50,755.40 623.20,759.80 625.70,762.70 628.70,766.40 631.20,769.70 633.00,772.20 634.10,777.30 635.60,785.00 636.60,796.90 639.80,805.30 643.70,818.90 645.30,828.50 647.30,747.20 649.80,775.00 652.10,795.00 654.00,795.60 657.30,811.10 659.50,812.30" fill="none" stroke="#e46c71" stroke-width="1.1" stroke-linejoin="round" clip-path="url(#c6)"/>
<line x1="482.75" y1="812.40" x2="482.75" y2="668.40" stroke="#8e8e8e" stroke-width="1.1"/>
<line x1="489.60" y1="825.60" x2="660.90" y2="825.60" stroke="#8e8e8e" stroke-width="1.1"/>
<line x1="489.60" y1="825.60" x2="489.60" y2="828.20" stroke="#8a8a8a" stroke-width="0.9"/>
<text x="489.60" y="837.00" font-size="7.3" text-anchor="middle" fill="#222">0.0</text>
<line x1="480.15" y1="812.40" x2="482.75" y2="812.40" stroke="#8a8a8a" stroke-width="0.9"/>
<text x="478.25" y="813.70" font-size="7.3" text-anchor="middle" fill="#222" transform="rotate(-89.98 478.25 813.70)">0.0</text>
<line x1="523.86" y1="825.60" x2="523.86" y2="828.20" stroke="#8a8a8a" stroke-width="0.9"/>
<text x="523.86" y="837.00" font-size="7.3" text-anchor="middle" fill="#222">0.2</text>
<line x1="480.15" y1="783.60" x2="482.75" y2="783.60" stroke="#8a8a8a" stroke-width="0.9"/>
<text x="478.25" y="784.30" font-size="7.3" text-anchor="middle" fill="#222" transform="rotate(-89.98 478.25 784.30)">0.2</text>
<line x1="558.12" y1="825.60" x2="558.12" y2="828.20" stroke="#8a8a8a" stroke-width="0.9"/>
<text x="558.12" y="837.00" font-size="7.3" text-anchor="middle" fill="#222">0.4</text>
<line x1="480.15" y1="754.80" x2="482.75" y2="754.80" stroke="#8a8a8a" stroke-width="0.9"/>
<text x="478.25" y="755.50" font-size="7.3" text-anchor="middle" fill="#222" transform="rotate(-89.98 478.25 755.50)">0.4</text>
<line x1="592.38" y1="825.60" x2="592.38" y2="828.20" stroke="#8a8a8a" stroke-width="0.9"/>
<text x="592.38" y="837.00" font-size="7.3" text-anchor="middle" fill="#222">0.6</text>
<line x1="480.15" y1="726.00" x2="482.75" y2="726.00" stroke="#8a8a8a" stroke-width="0.9"/>
<text x="478.25" y="726.70" font-size="7.3" text-anchor="middle" fill="#222" transform="rotate(-89.98 478.25 726.70)">0.6</text>
<line x1="626.64" y1="825.60" x2="626.64" y2="828.20" stroke="#8a8a8a" stroke-width="0.9"/>
<text x="626.64" y="837.00" font-size="7.3" text-anchor="middle" fill="#222">0.8</text>
<line x1="480.15" y1="697.20" x2="482.75" y2="697.20" stroke="#8a8a8a" stroke-width="0.9"/>
<text x="478.25" y="697.90" font-size="7.3" text-anchor="middle" fill="#222" transform="rotate(-89.98 478.25 697.90)">0.8</text>
<line x1="660.90" y1="825.60" x2="660.90" y2="828.20" stroke="#8a8a8a" stroke-width="0.9"/>
<text x="660.90" y="837.00" font-size="7.3" text-anchor="middle" fill="#222">1.0</text>
<line x1="480.15" y1="668.40" x2="482.75" y2="668.40" stroke="#8a8a8a" stroke-width="0.9"/>
<text x="478.25" y="669.10" font-size="7.3" text-anchor="middle" fill="#222" transform="rotate(-89.98 478.25 669.10)">1.0</text>
<text x="470.20" y="743.00" font-size="7.3" text-anchor="middle" fill="#222" transform="rotate(-89.98 470.20 743.00)">Standardized Net Benefit</text>
<text x="577.20" y="851.00" font-size="7.3" text-anchor="middle" fill="#222">High Risk Threshold</text>
<text x="667.80" y="831.90" font-size="10.2" text-anchor="start" fill="#000">L</text>
<line x1="590.30" y1="673.80" x2="601.90" y2="673.80" stroke="#e46c71" stroke-width="1.8"/>
<line x1="590.30" y1="683.10" x2="601.90" y2="683.10" stroke="#6464b6" stroke-width="1.1"/>
<line x1="590.30" y1="692.40" x2="601.90" y2="692.40" stroke="#222" stroke-width="1.1"/>
<line x1="590.30" y1="700.00" x2="601.90" y2="700.00" stroke="#7a7a7a" stroke-width="1.1"/>
<text x="602.80" y="677.00" font-size="7.3" text-anchor="start" fill="#222">Pathomics model</text>
<text x="602.80" y="686.20" font-size="7.3" text-anchor="start" fill="#222">Clinical model</text>
<text x="602.80" y="695.40" font-size="7.3" text-anchor="start" fill="#222">All</text>
<text x="602.80" y="703.30" font-size="7.3" text-anchor="start" fill="#222">None</text>
</svg>
</body></html>
